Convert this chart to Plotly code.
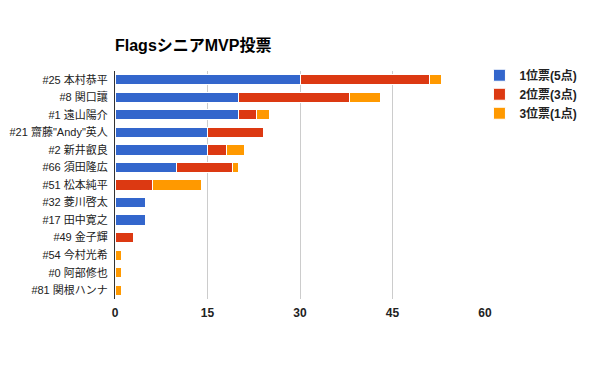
import plotly.graph_objects as go

players = ["#25 本村恭平", "#8 関口讓", "#1 遠山陽介", "#21 齋藤\"Andy\"英人", "#2 新井叡良",
           "#66 須田隆広", "#51 松本純平", "#32 菱川啓太", "#17 田中寛之", "#49 金子輝",
           "#54 今村光希", "#0 阿部修也", "#81 関根ハンナ"]
first_pts = [30, 20, 20, 15, 15, 10, 0, 5, 5, 0, 0, 0, 0]
second_pts = [21, 18, 3, 9, 3, 9, 6, 0, 0, 3, 0, 0, 0]
third_pts = [2, 5, 2, 0, 3, 1, 8, 0, 0, 0, 1, 1, 1]
series_names = ["1位票(5点)", "2位票(3点)", "3位票(1点)"]
colors = ["#3366cc", "#dc3912", "#ff9900"]
x_ticks = [0, 15, 30, 45, 60]

FONT = "Liberation Sans, Arial, Noto Sans CJK JP, sans-serif"

fig = go.Figure()
for name, vals, c in zip(series_names, [first_pts, second_pts, third_pts], colors):
    fig.add_trace(go.Bar(
        y=players, x=vals, name=f"<b>{name}</b>", orientation="h",
        marker=dict(color=c, line=dict(color="white", width=1)),
    ))

fig.update_layout(
    barmode="stack",
    bargap=0.42,
    width=600, height=371,
    margin=dict(l=107, r=123, t=63, b=80, autoexpand=False),
    paper_bgcolor="white", plot_bgcolor="white",
    font=dict(family=FONT, size=11, color="#222222"),
    title=dict(text="<b>FlagsシニアMVP投票</b>", x=107/600, xanchor="left",
               y=1 - 37/371, yanchor="middle",
               font=dict(size=16, color="#000000", family=FONT)),
    legend=dict(x=0.985, xanchor="left", y=1.045, yanchor="top",
                font=dict(size=12, color="#222222", family=FONT),
                itemwidth=30, traceorder="normal"),
    showlegend=True,
)
fig.update_xaxes(range=[0, 60], tickvals=x_ticks, ticktext=[f"<b>{v}</b>" for v in x_ticks],
                 showgrid=True, gridcolor="#cccccc", gridwidth=1, zeroline=False,
                 showline=False, ticks="", tickfont=dict(size=12, color="#222222"),
                 ticklabelstandoff=5, automargin=False)
fig.update_yaxes(autorange="reversed", showgrid=False, ticks="", showline=True,
                 linecolor="#333333", linewidth=1, tickfont=dict(size=11, color="#222222"),
                 ticklabelstandoff=4, automargin=False)

fig.write_html("out.html")
